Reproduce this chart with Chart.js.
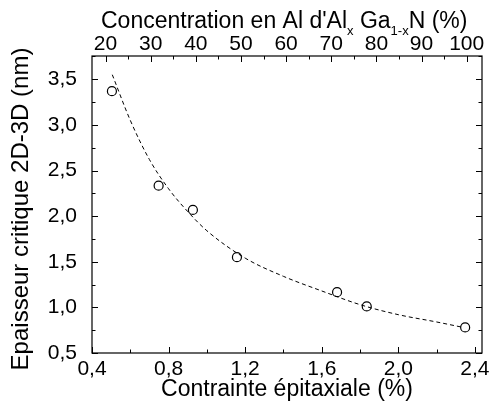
<!DOCTYPE html>
<html>
<head>
<meta charset="utf-8">
<script src="https://cdn.jsdelivr.net/npm/chart.js@4/dist/chart.umd.min.js"></script>
<style>
html,body{margin:0;padding:0;background:#fff;}
#wrap{width:491px;height:414px;position:relative;}
</style>
</head>
<body>
<div id="wrap"><canvas id="c" width="491" height="414"></canvas></div>
<script>
// Measured points (strain %, critical thickness nm)
const strain = [0.504, 0.748, 0.927, 1.157, 1.680, 1.835, 2.349];
const thickness = [3.37, 2.334, 2.068, 1.55, 1.167, 1.01, 0.78];
// Dashed fit curve
const fitStrain = [0.506, 0.60, 0.70, 0.80, 0.90, 1.00, 1.20, 1.40, 1.60, 1.80, 2.00, 2.20, 2.34];
const fitThickness = [3.55, 3.05, 2.62, 2.30, 2.05, 1.84, 1.54, 1.34, 1.18, 1.03, 0.92, 0.84, 0.78];
// Tick values
const strainTicks = [0.4, 0.8, 1.2, 1.6, 2.0, 2.4];
const strainMinor = [0.6, 1.0, 1.4, 1.8, 2.2];
const alTicks = [20, 30, 40, 50, 60, 70, 80, 90, 100];
const alMinor = [25, 35, 45, 55, 65, 75, 85, 95];
const thickTicks = [0.5, 1.0, 1.5, 2.0, 2.5, 3.0, 3.5];
const thickMinor = [0.75, 1.25, 1.75, 2.25, 2.75, 3.25, 3.75];

const FONT = "'Liberation Sans', Arial, sans-serif";
const comma = v => Number(v).toFixed(1).replace('.', ',');

const framePlugin = {
  id: 'frame',
  afterDraw(chart) {
    const ctx = chart.ctx, a = chart.chartArea, s = chart.scales;
    ctx.save();
    ctx.strokeStyle = '#000';
    ctx.lineWidth = 1.2;
    ctx.strokeRect(a.left, a.top, a.right - a.left, a.bottom - a.top);
    const MAJ = 6, MIN = 3.5;
    ctx.lineWidth = 1;
    ctx.beginPath();
    const hx = (scale, vals, len) => vals.forEach(v => {
      const x = Math.round(scale.getPixelForValue(v)) + 0.5;
      if (scale.id === 'x') { ctx.moveTo(x, a.bottom); ctx.lineTo(x, a.bottom - len); }
      else { ctx.moveTo(x, a.top); ctx.lineTo(x, a.top + len); }
    });
    const vy = (scale, vals, len) => vals.forEach(v => {
      const y = Math.round(scale.getPixelForValue(v)) + 0.5;
      ctx.moveTo(a.left, y); ctx.lineTo(a.left + len, y);
      ctx.moveTo(a.right, y); ctx.lineTo(a.right - len, y);
    });
    hx(s.x, strainTicks, MAJ); hx(s.x, strainMinor, MIN);
    hx(s.x2, alTicks, MAJ); hx(s.x2, alMinor, MIN);
    vy(s.y, thickTicks, MAJ); vy(s.y, thickMinor, MIN);
    ctx.stroke();

    ctx.fillStyle = '#000';
    // Top title with subscripts
    const big = '23px ' + FONT, small = '13px ' + FONT;
    const parts = [
      ['Concentration en Al d\'Al', big, 0],
      ['x', small, 7],
      [' Ga', big, 0],
      ['1-x', small, 7],
      ['N (%)', big, 0]
    ];
    let x = 101, base = 28;
    ctx.textBaseline = 'alphabetic';
    ctx.textAlign = 'left';
    parts.forEach(([t, f, dy]) => {
      ctx.font = f;
      ctx.fillText(t, x, base + dy);
      x += ctx.measureText(t).width;
    });

    // Left title (rotated)
    ctx.save();
    ctx.translate(21, 209);
    ctx.rotate(-Math.PI / 2);
    ctx.font = '24px ' + FONT;
    ctx.textAlign = 'center';
    ctx.textBaseline = 'middle';
    ctx.fillText('Epaisseur critique 2D-3D (nm)', 0, 0);
    ctx.restore();
    ctx.restore();
  }
};

new Chart(document.getElementById('c'), {
  type: 'scatter',
  data: {
    datasets: [
      {
        label: 'fit',
        data: fitStrain.map((v, i) => ({x: v, y: fitThickness[i]})),
        showLine: true,
        borderColor: '#000',
        borderWidth: 1,
        borderDash: [4, 3],
        pointRadius: 0,
        tension: 0.4,
        cubicInterpolationMode: 'monotone',
        fill: false
      },
      {
        label: 'data',
        data: strain.map((v, i) => ({x: v, y: thickness[i]})),
        showLine: false,
        pointStyle: 'circle',
        pointRadius: 4.5,
        pointBorderWidth: 1.2,
        pointBorderColor: '#000',
        pointBackgroundColor: 'rgba(255,255,255,0)'
      }
    ]
  },
  options: {
    responsive: false,
    animation: false,
    devicePixelRatio: 1,
    layout: {padding: 0},
    plugins: {legend: {display: false}, tooltip: {enabled: false}},
    scales: {
      x: {
        type: 'linear', position: 'bottom', min: 0.4, max: 2.437,
        afterBuildTicks: sc => { sc.ticks = strainTicks.map(v => ({value: v})); },
        afterFit: sc => { sc.height = 61; },
        grid: {display: false},
        border: {display: false},
        ticks: {color: '#000', padding: -4, maxRotation: 0, autoSkip: false,
          font: {family: FONT, size: 21}, callback: v => comma(v)},
        title: {display: true, text: 'Contrainte épitaxiale (%)', color: '#000',
          font: {family: FONT, size: 23}, padding: {top: 0, bottom: 11}}
      },
      x2: {
        type: 'linear', position: 'top', axis: 'x', min: 17, max: 103.4,
        afterBuildTicks: sc => { sc.ticks = alTicks.map(v => ({value: v})); },
        afterFit: sc => { sc.height = 56; },
        grid: {display: false},
        border: {display: false},
        ticks: {color: '#000', padding: -9, maxRotation: 0, autoSkip: false,
          font: {family: FONT, size: 21}, callback: v => String(v)}
      },
      y: {
        type: 'linear', position: 'left', min: 0.5, max: 3.755,
        afterBuildTicks: sc => { sc.ticks = thickTicks.map(v => ({value: v})); },
        afterFit: sc => { sc.width = 92; },
        grid: {display: false},
        border: {display: false},
        ticks: {color: '#000', padding: 7, autoSkip: false,
          font: {family: FONT, size: 21}, callback: v => comma(v)}
      },
      y2: {
        type: 'linear', position: 'right', axis: 'y', min: 0.5, max: 3.755,
        afterFit: sc => { sc.width = 9; },
        grid: {display: false},
        border: {display: false},
        ticks: {display: false}
      }
    }
  },
  plugins: [framePlugin]
});
</script>
</body>
</html>
